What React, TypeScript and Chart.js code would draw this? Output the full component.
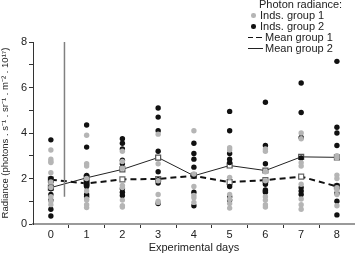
import { useEffect, useRef } from 'react';
import { Chart, registerables } from 'chart.js';
Chart.register(...registerables);

const days = [0, 1, 2, 3, 4, 5, 6, 7, 8];
// Individuals, group 1 (grey)
const group1Inds: number[][] = [
  [3.25, 2.85, 2.75, 2.7, 2.25, 1.85, 1.6, 1.2, 1.0, 0.85],
  [3.9, 2.65, 2.55, 2.0, 1.45, 1.1, 1.05, 0.85, 0.72],
  [3.2, 2.75, 2.45, 1.7, 1.6, 1.05, 0.8, 0.75],
  [3.95, 2.65, 1.9, 1.3, 1.0, 0.95],
  [4.1, 2.2, 1.65, 1.25, 1.15, 0.95],
  [3.35, 3.25, 2.05, 1.3, 1.1, 0.9, 0.7],
  [3.3, 3.2, 2.3, 1.9, 1.2, 1.05, 0.85, 0.75],
  [4.0, 3.75, 2.7, 2.55, 1.75, 1.1, 0.85, 0.65],
  [3.0, 2.9, 2.15, 2.0, 1.6, 1.5, 1.3, 0.8],
];
// Individuals, group 2 (black)
const group2Inds: number[][] = [
  [3.7, 2.0, 1.93, 1.85, 1.55, 1.3, 1.05, 0.65, 0.35],
  [4.35, 3.38, 2.13, 1.85, 1.75, 1.65, 1.3, 1.2],
  [3.75, 3.55, 3.3, 2.8, 2.65, 1.55, 1.4, 1.25],
  [5.1, 4.7, 4.1, 3.2, 2.3, 1.95, 1.8, 0.9],
  [3.55, 3.1, 2.85, 2.5, 2.1, 1.4, 0.8],
  [4.95, 4.1, 3.1, 2.85, 2.7, 1.65, 1.2, 1.05],
  [5.35, 3.45, 2.65, 1.75, 1.5, 1.45, 1.4],
  [6.2, 4.9, 3.8, 2.9, 1.6, 1.45, 1.3],
  [7.15, 4.25, 4.0, 3.45, 1.7, 1.35, 1.0, 0.4],
];
const mean1 = [1.95, 1.78, 1.96, 1.98, 2.12, 1.84, 1.93, 2.08, 1.65];
const mean2 = [1.6, 2.03, 2.4, 2.92, 2.12, 2.57, 2.35, 2.95, 2.93];
const markerX = [0.38, 0.38];
const markerY = [8, 1.2];
const yAxisTitle = 'Radiance (photons . s⁻¹ . sr⁻¹ . m⁻² . 10¹⁷)';
const xAxisTitle = 'Experimental days';
const legendTitle = 'Photon radiance:';
const legendLabels = ['Inds. group 1', 'Inds. group 2', 'Mean group 1', 'Mean group 2'];

const FONT = '"Liberation Sans", Arial, sans-serif';

function flatten(groups: number[][]) {
  const pts: { x: number; y: number }[] = [];
  groups.forEach((vals, i) => vals.forEach((v) => pts.push({ x: days[i], y: v })));
  return pts;
}

export default function App() {
  const ref = useRef<HTMLCanvasElement>(null);
  useEffect(() => {
    if (!ref.current) return;
    const chart = new Chart(ref.current, {
      type: 'scatter',
      data: {
        datasets: [
          {
            label: 'marker',
            type: 'line',
            data: markerX.map((x, i) => ({ x, y: markerY[i] })),
            borderColor: '#808080',
            borderWidth: 1.5,
            pointRadius: 0,
          } as any,
          {
            label: legendLabels[0],
            data: flatten(group1Inds),
            backgroundColor: '#b5b5b5',
            borderWidth: 0,
            pointRadius: 2.7,
          },
          {
            label: legendLabels[1],
            data: flatten(group2Inds),
            backgroundColor: '#111111',
            borderWidth: 0,
            pointRadius: 2.7,
          },
          {
            label: legendLabels[2],
            type: 'line',
            data: days.map((d, i) => ({ x: d, y: mean1[i] })),
            borderColor: '#111',
            borderWidth: 2,
            borderDash: [6, 4],
            pointStyle: 'rect',
            pointRadius: 3.5,
            pointBackgroundColor: '#fff',
            pointBorderColor: '#666',
            pointBorderWidth: 1.2,
          } as any,
          {
            label: legendLabels[3],
            type: 'line',
            data: days.map((d, i) => ({ x: d, y: mean2[i] })),
            borderColor: '#222',
            borderWidth: 1,
            pointStyle: 'rect',
            pointRadius: 3.5,
            pointBackgroundColor: '#fff',
            pointBorderColor: '#555',
            pointBorderWidth: 1.2,
          } as any,
        ],
      },
      options: {
        animation: false,
        responsive: true,
        maintainAspectRatio: false,
        layout: { padding: { top: 42, right: 3, left: 0, bottom: 0 } },
        plugins: { legend: { display: false }, tooltip: { enabled: false } },
        scales: {
          x: {
            type: 'linear',
            min: -0.5,
            max: 8.5,
            border: { color: '#9a9a9a', width: 2 },
            grid: {
              drawOnChartArea: false,
              tickLength: 4,
              tickColor: (ctx: any) => {
                const v = ctx.tick ? ctx.tick.value : 0;
                return !Number.isInteger(v) && v > 0 && v < 8 ? '#333' : 'rgba(0,0,0,0)';
              },
            },
            ticks: {
              stepSize: 0.5,
              autoSkip: false,
              maxRotation: 0,
              color: '#222',
              font: { family: FONT, size: 11 },
              padding: 0,
              callback: (v: any) => (Number.isInteger(v) && v >= 0 ? String(v) : ''),
            },
            title: {
              display: true,
              text: xAxisTitle,
              color: '#222',
              font: { family: FONT, size: 11 },
              padding: { top: 6, bottom: 0 },
            },
            afterFit: (s: any) => {
              s.height = 31;
            },
          },
          y: {
            min: 0,
            max: 8,
            border: { color: '#333', width: 1 },
            grid: { drawOnChartArea: false, tickLength: 4, tickColor: '#333' },
            ticks: {
              stepSize: 1,
              color: '#222',
              font: { family: FONT, size: 11 },
              padding: 2,
              callback: (v: any) => (v % 2 === 0 ? String(v) : ''),
            },
            title: {
              display: true,
              text: yAxisTitle,
              color: '#222',
              font: { family: FONT, size: 9.5 },
              padding: { top: 0, bottom: 2 },
            },
            afterFit: (s: any) => {
              s.width = 33;
            },
          },
        },
      },
    });
    return () => chart.destroy();
  }, []);

  const row = (top: number): React.CSSProperties => ({
    position: 'absolute',
    top,
    left: 0,
    height: 11,
    lineHeight: '11px',
    whiteSpace: 'nowrap',
  });
  const text = (left: number): React.CSSProperties => ({ position: 'absolute', left, top: 0 });

  return (
    <div style={{ position: 'fixed', left: 0, top: 0, width: 360, height: 255, background: '#fff' }}>
      <canvas ref={ref} />
      <div style={{ position: 'absolute', left: 0, top: 0, width: 360, height: 60, fontFamily: FONT, fontSize: 11, color: '#222', pointerEvents: 'none' }}>
        <div style={row(-1.5)}>
          <span style={text(259)}>{legendTitle}</span>
        </div>
        <div style={row(9.5)}>
          <span style={{ position: 'absolute', left: 251, top: 3.5, width: 4.5, height: 4.5, borderRadius: '50%', background: '#b5b5b5' }} />
          <span style={text(260)}>{legendLabels[0]}</span>
        </div>
        <div style={row(20.5)}>
          <span style={{ position: 'absolute', left: 251, top: 3.5, width: 4.5, height: 4.5, borderRadius: '50%', background: '#111' }} />
          <span style={text(260)}>{legendLabels[1]}</span>
        </div>
        <div style={row(31.5)}>
          <span style={{ position: 'absolute', left: 248, top: 5, width: 5, height: 1.5, background: '#111' }} />
          <span style={{ position: 'absolute', left: 256, top: 5, width: 6, height: 1.5, background: '#111' }} />
          <span style={text(265)}>{legendLabels[2]}</span>
        </div>
        <div style={row(42.5)}>
          <span style={{ position: 'absolute', left: 248, top: 5, width: 15, height: 1, background: '#222' }} />
          <span style={text(265)}>{legendLabels[3]}</span>
        </div>
      </div>
    </div>
  );
}
